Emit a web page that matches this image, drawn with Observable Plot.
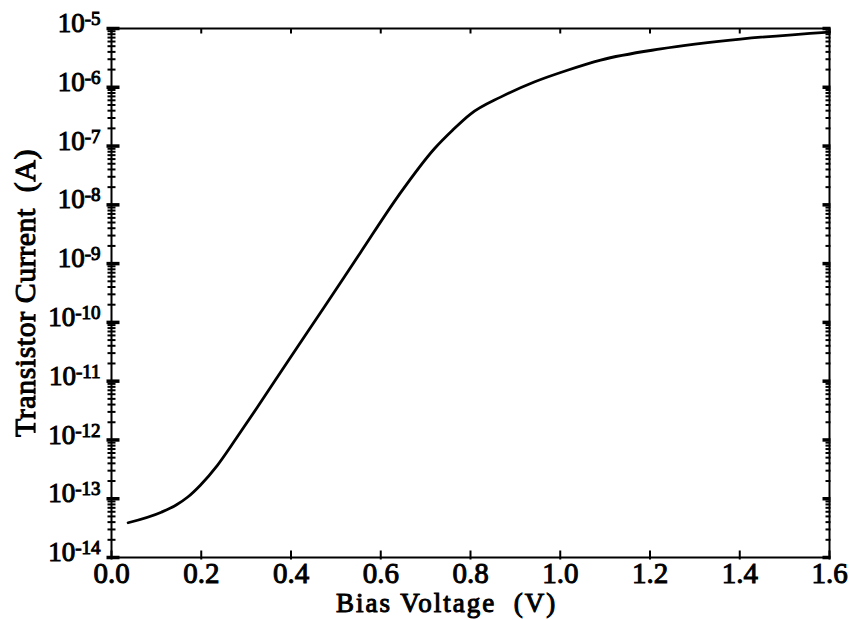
<!DOCTYPE html>
<html>
<head>
<meta charset="utf-8">
<script src="https://cdn.jsdelivr.net/npm/d3@7"></script>
<script src="https://cdn.jsdelivr.net/npm/@observablehq/plot@0.6"></script>
<style>
  html, body { margin: 0; padding: 0; background: #fff; }
  #chart text { stroke: #000; stroke-width: 1px; white-space: pre; }
</style>
</head>
<body>
<div id="chart"></div>
<script>
// Bias sweep: transistor current vs. bias voltage
const biasVolts = [0.037, 0.111, 0.145, 0.170, 0.198, 0.236, 0.280, 0.325, 0.395, 0.475, 0.555, 0.640, 0.720, 0.760, 0.800, 0.867, 0.942, 1.016, 1.090, 1.224, 1.402, 1.600];
const currentAmps = [3.9e-14, 5.9e-14, 7.9e-14, 1.07e-13, 1.7e-13, 3.7e-13, 1.12e-12, 3.6e-12, 2.3e-11, 1.86e-10, 1.55e-9, 1.45e-8, 9.1e-8, 1.86e-7, 3.5e-7, 6.8e-7, 1.23e-6, 1.95e-6, 2.9e-6, 4.5e-6, 6.6e-6, 8.7e-6];

// Axis ticks
const xTicks = [0.0, 0.2, 0.4, 0.6, 0.8, 1.0, 1.2, 1.4, 1.6];
const yTicks = [1e-14, 1e-13, 1e-12, 1e-11, 1e-10, 1e-9, 1e-8, 1e-7, 1e-6, 1e-5];
const yMinorTicks = yTicks.slice(0, -1).flatMap(d => d3.range(2, 10).map(m => m * d));

const xTitle = "Bias Voltage  (V)";
const yTitle = "Transistor Current  (A)";

const xDomain = [0, 1.6];
const yDomain = [1e-14, 1e-5];

// tick glyphs: short strokes from a to b pixels along one direction
const hTick = (a, b) => ({draw(ctx) { ctx.moveTo(a, 0); ctx.lineTo(b, 0); }});
const vTick = (a, b) => ({draw(ctx) { ctx.moveTo(0, a); ctx.lineTo(0, b); }});

const rows = biasVolts.map((v, i) => ({v, a: currentAmps[i]}));

const chart = Plot.plot({
  width: 849, height: 620,
  marginTop: 28, marginRight: 20, marginBottom: 63, marginLeft: 111,
  style: {fontFamily: "'Liberation Serif', 'Times New Roman', serif", fontSize: "27px", color: "#000", background: "#fff"},
  x: {domain: xDomain},
  y: {type: "log", domain: yDomain},
  marks: [
    Plot.frame({stroke: "#000", fill: "none", strokeWidth: 2}),
    // left spine: ticks crossing the spine
    Plot.dot(yTicks, {x: () => xDomain[0], y: d => d, symbol: hTick(-5, 8), stroke: "#000", strokeWidth: 3.5}),
    Plot.dot(yMinorTicks, {x: () => xDomain[0], y: d => d, symbol: hTick(-4, 4), stroke: "#000", strokeWidth: 2}),
    // right spine: inward ticks
    Plot.dot(yTicks, {x: () => xDomain[1], y: d => d, symbol: hTick(-7, 1), stroke: "#000", strokeWidth: 3.5}),
    Plot.dot(yMinorTicks, {x: () => xDomain[1], y: d => d, symbol: hTick(-4, 1), stroke: "#000", strokeWidth: 2}),
    // bottom and top spines
    Plot.dot(xTicks, {x: d => d, y: () => yDomain[0], symbol: vTick(-7, 2), stroke: "#000", strokeWidth: 2}),
    Plot.dot(xTicks, {x: d => d, y: () => yDomain[1], symbol: vTick(0, 5), stroke: "#000", strokeWidth: 2}),
    // tick labels
    Plot.axisX(xTicks, {anchor: "bottom", tickSize: 0, tickPadding: 5, tickFormat: d => d.toFixed(1), fontSize: 29, label: null}),
    Plot.axisY(yTicks, {anchor: "left", tickSize: 0, tickPadding: 11, dy: -5, tickFormat: d => `10${Math.round(Math.log10(d))}`, fontSize: 27, label: null}),
    Plot.line(rows, {x: "v", y: "a", stroke: "#000", strokeWidth: 2.8, curve: "monotone-x"}),
    Plot.text([xTitle], {text: d => d, frameAnchor: "bottom", textAnchor: "middle", lineAnchor: "top", dx: -24, dy: 35, fontSize: 27}),
    Plot.text([yTitle], {text: d => d, frameAnchor: "left", textAnchor: "middle", lineAnchor: "middle", rotate: -90, dx: -86, fontSize: 30})
  ]
});

// exponents as superscripts, letter spacing on the titles
chart.querySelectorAll("text").forEach(t => {
  const s = t.textContent;
  const m = /^10(-\d+)$/.exec(s);
  if (m) {
    t.textContent = "";
    const base = document.createElementNS("http://www.w3.org/2000/svg", "tspan");
    base.textContent = "10";
    const sup = document.createElementNS("http://www.w3.org/2000/svg", "tspan");
    sup.textContent = m[1];
    sup.setAttribute("font-size", "19");
    sup.setAttribute("dy", "-7");
    t.appendChild(base);
    t.appendChild(sup);
  } else if (s === xTitle) {
    t.setAttribute("letter-spacing", "2");
  } else if (s === yTitle) {
    t.setAttribute("letter-spacing", "0.5");
  }
});

document.getElementById("chart").appendChild(chart);
</script>
</body>
</html>
